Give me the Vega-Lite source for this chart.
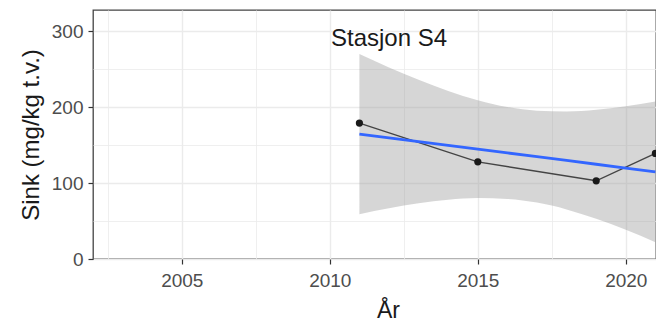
{
  "$schema": "https://vega.github.io/schema/vega-lite/v6.json",
  "width": 563,
  "height": 249,
  "autosize": {"type": "none"},
  "padding": {"left": 93, "top": 10, "right": 0, "bottom": 64},
  "background": "white",
  "config": {
    "view": {"stroke": "#444444", "strokeWidth": 1.3},
    "font": "Liberation Sans"
  },
  "datasets": {
    "obs": [
      {"year": 2011, "value": 179},
      {"year": 2015, "value": 128},
      {"year": 2019, "value": 103},
      {"year": 2021, "value": 139}
    ],
    "fit": [
      {"year": 2011, "fit": 164.6, "lo": 59.0, "hi": 270.2},
      {"year": 2012, "fit": 159.6, "lo": 66.8, "hi": 252.4},
      {"year": 2013, "fit": 154.7, "lo": 73.3, "hi": 236.1},
      {"year": 2014, "fit": 149.7, "lo": 78.0, "hi": 221.4},
      {"year": 2015, "fit": 144.7, "lo": 80.2, "hi": 209.2},
      {"year": 2016, "fit": 139.7, "lo": 79.2, "hi": 200.2},
      {"year": 2017, "fit": 134.8, "lo": 74.3, "hi": 195.3},
      {"year": 2018, "fit": 129.8, "lo": 65.3, "hi": 194.3},
      {"year": 2019, "fit": 124.8, "lo": 53.0, "hi": 196.6},
      {"year": 2020, "fit": 119.8, "lo": 38.4, "hi": 201.2},
      {"year": 2021, "fit": 114.9, "lo": 22.2, "hi": 207.6}
    ],
    "lab": [{"year": 2012, "value": 290, "label": "Stasjon S4"}]
  },
  "layer": [
    {
      "data": {"name": "fit"},
      "mark": {"type": "area", "color": "#999999", "opacity": 0.4, "interpolate": "monotone"},
      "encoding": {
        "x": {
          "field": "year", "type": "quantitative",
          "scale": {"domain": [2002, 2021.02], "nice": false, "zero": false},
          "axis": {
            "title": "År",
            "values": [2002.5, 2005, 2007.5, 2010, 2012.5, 2015, 2017.5, 2020],
            "format": "d",
            "labelExpr": "datum.value % 5 == 0 ? datum.label : ''",
            "grid": true,
            "gridColor": "#EBEBEB",
            "gridWidth": {"condition": {"test": "datum.value % 5 == 0", "value": 1.4}, "value": 0.8},
            "tickOpacity": {"condition": {"test": "datum.value % 5 == 0", "value": 1}, "value": 0},
            "tickSize": 5,
            "tickColor": "#333333",
            "tickWidth": 1.2,
            "domain": false,
            "labelFontSize": 19,
            "labelColor": "#4D4D4D",
            "labelPadding": 7,
            "labelFlush": false,
            "titleFontSize": 23,
            "titleColor": "#1a1a1a",
            "titleFontWeight": "normal",
            "titleX": 295,
            "titleAlign": "center",
            "titlePadding": 9
          }
        },
        "y": {
          "field": "lo", "type": "quantitative",
          "scale": {"domain": [0, 328], "nice": false},
          "axis": {
            "title": "Sink (mg/kg t.v.)",
            "values": [0, 50, 100, 150, 200, 250, 300],
            "labelExpr": "datum.value % 100 == 0 ? datum.label : ''",
            "grid": true,
            "gridColor": "#EBEBEB",
            "gridWidth": {"condition": {"test": "datum.value % 100 == 0", "value": 1.4}, "value": 0.8},
            "tickOpacity": {"condition": {"test": "datum.value % 100 == 0", "value": 1}, "value": 0},
            "tickSize": 5,
            "tickColor": "#333333",
            "tickWidth": 1.2,
            "domain": false,
            "labelFontSize": 19,
            "labelColor": "#4D4D4D",
            "labelPadding": 5,
            "labelFlush": false,
            "titleFontSize": 24,
            "titleColor": "#1a1a1a",
            "titleFontWeight": "normal",
            "titlePadding": 8
          }
        },
        "y2": {"field": "hi"}
      }
    },
    {
      "data": {"name": "obs"},
      "mark": {"type": "line", "color": "#444444", "strokeWidth": 1.4},
      "encoding": {
        "x": {"field": "year", "type": "quantitative"},
        "y": {"field": "value", "type": "quantitative"}
      }
    },
    {
      "data": {"name": "obs"},
      "mark": {"type": "circle", "color": "#1a1a1a", "size": 52, "opacity": 1},
      "encoding": {
        "x": {"field": "year", "type": "quantitative"},
        "y": {"field": "value", "type": "quantitative"}
      }
    },
    {
      "data": {"name": "fit"},
      "mark": {"type": "line", "color": "#3366FF", "strokeWidth": 2.8},
      "encoding": {
        "x": {"field": "year", "type": "quantitative"},
        "y": {"field": "fit", "type": "quantitative"}
      }
    },
    {
      "data": {"name": "lab"},
      "mark": {"type": "text", "fontSize": 24, "color": "#1a1a1a", "baseline": "middle", "align": "center"},
      "encoding": {
        "x": {"field": "year", "type": "quantitative"},
        "y": {"field": "value", "type": "quantitative"},
        "text": {"field": "label"}
      }
    }
  ]
}
